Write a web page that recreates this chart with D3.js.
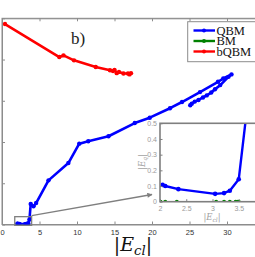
<!DOCTYPE html>
<html>
<head>
<meta charset="utf-8">
<script src="https://cdn.jsdelivr.net/npm/d3@7"></script>
<style>
  body { margin: 0; background: #fff; }
  svg { display: block; }
</style>
</head>
<body>
<div id="chart"></div>
<script>
// series data
const qbmX = [2.05, 2.1, 2.35, 3.05, 3.22, 3.33, 3.5, 3.66, 3.83, 4.2, 4.55, 6.2, 8.85, 10.3, 11.5, 14.2, 17.7, 19.7, 22.4, 24.0, 26.4, 28.8, 29.5, 30.6, 30.2, 29.1, 28.4, 27.9, 27.3, 26.8, 26.2, 25.7, 25.3, 25.1];
const qbmY = [0.107, 0.1, 0.08, 0.05, 0.055, 0.07, 0.143, 0.6, 2.5, 2.2, 2.6, 5.35, 7.45, 9.8, 10.1, 10.7, 12.3, 12.95, 14.1, 14.85, 16.05, 17.3, 17.7, 18.2, 17.9, 16.9, 16.4, 16.0, 15.65, 15.4, 15.1, 14.9, 14.65, 14.45];
const bmX = [2.01, 2.1, 2.32, 3.07, 3.22, 3.33, 3.44, 3.47, 3.5];
const bmY = [0, 0, 0, 0, 0, 0, 0, 0, 0];
const bqbmX = [0.4, 7.64, 8.2, 9.6, 12.5, 14.4, 14.8, 15.0, 15.3, 15.6, 16.2, 16.8, 17.0, 17.2];
const bqbmY = [24.3, 20.3, 20.5, 19.9, 19.1, 18.7, 18.6, 18.75, 18.35, 18.5, 18.3, 18.3, 18.2, 18.35];

const seriesNames = ['QBM', 'BM', 'bQBM'];
const seriesColors = ['#0000ff', '#008000', '#ff0000'];

const xTicks = [0, 5, 10, 15, 20, 25, 30];
const yTicks = [0, 5, 10, 15, 20, 25];
const insetXTicks = [2, 2.5, 3, 3.5];
const insetYTicks = [0, 0.1, 0.2, 0.3, 0.4, 0.5];
const zoomBoxX = [1.7, 3.95];
const zoomBoxY = [-0.1, 0.95];

const W = 255, H = 257;
const zip = (xs, ys) => xs.map((x, i) => ({ x, y: ys[i] }));
const series = [zip(qbmX, qbmY), zip(bmX, bmY), zip(bqbmX, bqbmY)];

const svg = d3.select('#chart').append('svg')
  .attr('width', W).attr('height', H)
  .style('font-family', 'DejaVu Sans, sans-serif');

// main axes (x runs to 35, past the right edge of the window)
const x = d3.scaleLinear().domain([0, 35]).range([2, 264.5]);
const y = d3.scaleLinear().domain([0, 25]).range([224.5, 18.3]);

svg.append('clipPath').attr('id', 'mainclip')
  .append('rect').attr('x', x(0)).attr('y', y(25))
  .attr('width', x(35) - x(0)).attr('height', y(0) - y(25));

const frameColor = '#8c8c8c';

svg.append('rect')
  .attr('x', x(0)).attr('y', y(25))
  .attr('width', x(35) - x(0)).attr('height', y(0) - y(25))
  .attr('fill', 'none').attr('stroke', frameColor).attr('stroke-width', 1);

const bottomAxis = svg.append('g')
  .attr('transform', `translate(0,${y(0)})`)
  .call(d3.axisBottom(x).tickValues(xTicks).tickSizeInner(-3).tickSizeOuter(0).tickPadding(5));
const topAxis = svg.append('g')
  .attr('transform', `translate(0,${y(25)})`)
  .call(d3.axisTop(x).tickValues(xTicks).tickSizeInner(-3).tickSizeOuter(0).tickFormat(''));
// y tick labels sit left of the window in the original, so only the marks show
const leftAxis = svg.append('g')
  .attr('transform', `translate(${x(0)},0)`)
  .call(d3.axisLeft(y).tickValues(yTicks).tickSizeInner(-3).tickSizeOuter(0).tickFormat(''));
[bottomAxis, topAxis, leftAxis].forEach(g => {
  g.select('.domain').attr('stroke', frameColor);
  g.selectAll('.tick line').attr('stroke', frameColor);
  g.selectAll('.tick text').attr('fill', '#333').style('font-size', '7.5px');
});

const line = (sx, sy) => d3.line().x(d => sx(d.x)).y(d => sy(d.y));

function drawSeries(g, sx, sy, widths, radii) {
  [1, 0, 2].forEach(i => {
    g.append('path').datum(series[i])
      .attr('fill', 'none').attr('stroke', seriesColors[i])
      .attr('stroke-width', widths[i]).attr('stroke-linejoin', 'round')
      .attr('d', line(sx, sy));
    g.selectAll(null).data(series[i]).enter().append('circle')
      .attr('cx', d => sx(d.x)).attr('cy', d => sy(d.y))
      .attr('r', radii[i]).attr('fill', seriesColors[i]);
  });
}

const plot = svg.append('g').attr('clip-path', 'url(#mainclip)');
drawSeries(plot, x, y, [2.6, 1.6, 2.6], [2.2, 1.8, 2.2]);

// zoom box + arrow
const boxColor = '#7f7f7f';
svg.append('rect')
  .attr('x', x(zoomBoxX[0])).attr('y', y(zoomBoxY[1]))
  .attr('width', x(zoomBoxX[1]) - x(zoomBoxX[0]))
  .attr('height', y(zoomBoxY[0]) - y(zoomBoxY[1]))
  .attr('fill', 'none').attr('stroke', boxColor).attr('stroke-width', 1.3);

svg.append('defs').append('marker')
  .attr('id', 'arrow').attr('viewBox', '0 0 10 10')
  .attr('refX', 9).attr('refY', 5)
  .attr('markerWidth', 5).attr('markerHeight', 4)
  .attr('orient', 'auto')
  .append('path').attr('d', 'M0,0L10,5L0,10z').attr('fill', boxColor);

// inset axes
const ix = d3.scaleLinear().domain([2, 4]).range([160, 265]);
const iy = d3.scaleLinear().domain([0, 0.5]).range([201.7, 123.3]);

svg.append('line')
  .attr('x1', x(zoomBoxX[1])).attr('y1', y(zoomBoxY[1]) - 1)
  .attr('x2', 152).attr('y2', 194.5)
  .attr('stroke', boxColor).attr('stroke-width', 1.3)
  .attr('marker-end', 'url(#arrow)');

svg.append('rect')
  .attr('x', ix(2)).attr('y', iy(0.5))
  .attr('width', ix(4) - ix(2)).attr('height', iy(0) - iy(0.5))
  .attr('fill', '#fff');

svg.append('clipPath').attr('id', 'insetclip')
  .append('rect').attr('x', ix(2)).attr('y', iy(0.5))
  .attr('width', ix(4) - ix(2)).attr('height', iy(0) - iy(0.5));

const inset = svg.append('g').attr('clip-path', 'url(#insetclip)');
drawSeries(inset, ix, iy, [2.4, 1.5, 2.4], [2.3, 2, 2.3]);

svg.append('rect')
  .attr('x', ix(2)).attr('y', iy(0.5))
  .attr('width', ix(4) - ix(2)).attr('height', iy(0) - iy(0.5))
  .attr('fill', 'none').attr('stroke', boxColor).attr('stroke-width', 1.6);

const ixAxis = svg.append('g')
  .attr('transform', `translate(0,${iy(0)})`)
  .call(d3.axisBottom(ix).tickValues(insetXTicks).tickSizeInner(-2.5).tickSizeOuter(0).tickPadding(4)
    .tickFormat(d3.format('')));
const iyAxis = svg.append('g')
  .attr('transform', `translate(${ix(2)},0)`)
  .call(d3.axisLeft(iy).tickValues(insetYTicks).tickSizeInner(-2.5).tickSizeOuter(0).tickPadding(3)
    .tickFormat(d3.format('')));
[ixAxis, iyAxis].forEach(g => {
  g.select('.domain').remove();
  g.selectAll('.tick line').attr('stroke', boxColor);
  g.selectAll('.tick text').attr('fill', '#9a9a9a').style('font-size', '7px');
});

function absLabel(g, sub, size) {
  const t = g.append('text').style('font-family', 'DejaVu Serif, Liberation Serif, serif');
  t.append('tspan').text('|');
  t.append('tspan').attr('font-style', 'italic').text('E');
  t.append('tspan').attr('font-style', 'italic').attr('font-size', size * 0.7)
    .attr('dy', size * 0.2).text(sub);
  t.append('tspan').attr('dy', -size * 0.2).text('|');
  return t;
}

absLabel(svg, 'cl', 8.5).attr('x', 212).attr('y', 220).attr('text-anchor', 'middle')
  .attr('font-size', 8.5).attr('fill', '#a0a0a0');
absLabel(svg, 'q', 8.5).attr('text-anchor', 'middle')
  .attr('font-size', 8.5).attr('fill', '#a0a0a0')
  .attr('transform', 'translate(145,162) rotate(-90)');

// main x label
absLabel(svg, 'cl', 19).attr('x', 133).attr('y', 251).attr('text-anchor', 'middle')
  .attr('font-size', 19).attr('fill', '#111');

// panel tag
svg.append('text').attr('x', 71).attr('y', 44)
  .style('font-family', 'Liberation Serif, DejaVu Serif, serif')
  .attr('font-size', 17).attr('fill', '#222').text('b)');

// legend
const legend = svg.append('g');
legend.append('rect')
  .attr('x', 187.7).attr('y', 21.7).attr('width', 80).attr('height', 40)
  .attr('fill', '#fff').attr('stroke', frameColor).attr('stroke-width', 1);
seriesNames.forEach((name, i) => {
  const ly = 30.5 + i * 10.5;
  legend.append('line').attr('x1', 193.5).attr('x2', 215).attr('y1', ly).attr('y2', ly)
    .attr('stroke', seriesColors[i]).attr('stroke-width', 2.4);
  legend.append('circle').attr('cx', 204).attr('cy', ly).attr('r', 2).attr('fill', seriesColors[i]);
  legend.append('text').attr('x', 216.5).attr('y', ly + 4)
    .style('font-family', 'Liberation Serif, DejaVu Serif, serif')
    .attr('font-size', 12.5).attr('fill', '#111').text(name);
});
</script>
</body>
</html>
